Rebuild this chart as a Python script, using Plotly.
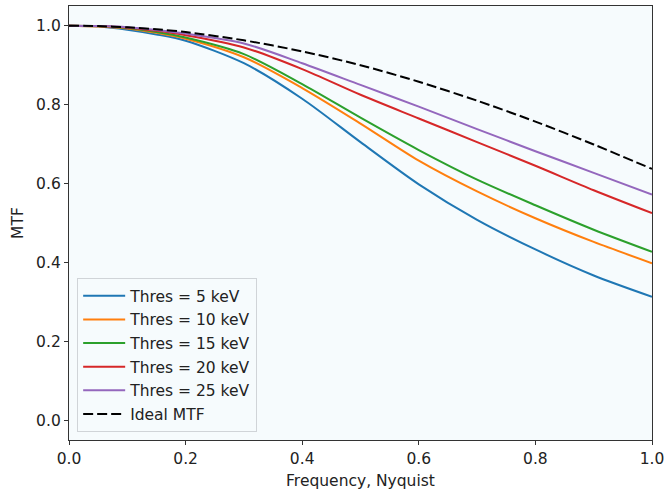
import plotly.graph_objects as go

freq = [0.0, 0.05, 0.1, 0.15, 0.2, 0.3, 0.4, 0.5, 0.6, 0.7, 0.8, 0.9, 1.0]
mtf_5 = [1.0, 0.998, 0.990, 0.978, 0.962, 0.905, 0.815, 0.705, 0.598, 0.508, 0.433, 0.367, 0.313]
mtf_10 = [1.0, 0.998, 0.993, 0.982, 0.967, 0.920, 0.842, 0.752, 0.658, 0.580, 0.512, 0.452, 0.398]
mtf_15 = [1.0, 0.999, 0.994, 0.984, 0.970, 0.928, 0.852, 0.767, 0.685, 0.610, 0.545, 0.483, 0.427]
mtf_20 = [1.0, 0.999, 0.995, 0.987, 0.976, 0.945, 0.890, 0.825, 0.765, 0.705, 0.645, 0.583, 0.525]
mtf_25 = [1.0, 0.999, 0.996, 0.989, 0.980, 0.955, 0.905, 0.850, 0.795, 0.738, 0.682, 0.627, 0.572]
mtf_ideal = [1.0, 0.999, 0.996, 0.991, 0.984, 0.963, 0.935, 0.900, 0.858, 0.810, 0.757, 0.699, 0.637]

labels = ["Thres = 5 keV", "Thres = 10 keV", "Thres = 15 keV",
          "Thres = 20 keV", "Thres = 25 keV", "Ideal MTF"]
series = [mtf_5, mtf_10, mtf_15, mtf_20, mtf_25, mtf_ideal]
colors = ["#1f77b4", "#ff7f0e", "#2ca02c", "#d62728", "#9467bd", "black"]
dashes = ["solid"] * 5 + ["10px,4px"]

fig = go.Figure()
for i, (lab, ys, c, d) in enumerate(zip(labels, series, colors, dashes)):
    fig.add_trace(go.Scatter(
        x=freq, y=ys, mode="lines", name=lab,
        line=dict(color=c, width=2, dash=d, shape="spline", smoothing=0.8),
        legendgroup=f"g{i}",
    ))

font = dict(family="DejaVu Sans", size=15.5, color="#222")
axis_common = dict(
    showgrid=False, zeroline=False, showline=True, linecolor="#333", linewidth=1.3,
    mirror=True, ticks="outside", ticklen=4, tickwidth=1.2, tickcolor="#333",
    tickformat=".1f", tickfont=font, ticklabeloverflow="allow", automargin=False,
)
fig.update_layout(
    width=664, height=492,
    margin=dict(l=69, r=12, t=6, b=52),
    paper_bgcolor="white",
    plot_bgcolor="#f6fbfd",
    font=font,
    showlegend=True,
    legend=dict(
        x=0.014, y=0.018, xanchor="left", yanchor="bottom",
        bgcolor="rgba(246,251,253,0.9)", bordercolor="#d0d4d8", borderwidth=1,
        font=dict(family="DejaVu Sans", size=15.5, color="#222"),
        tracegroupgap=0.5, traceorder="grouped", itemwidth=42,
    ),
    xaxis=dict(range=[0, 1.0], dtick=0.2,
               title=dict(text="Frequency, Nyquist", font=font, standoff=8),
               **axis_common),
    yaxis=dict(range=[-0.05, 1.05], tickvals=[0, 0.2, 0.4, 0.6, 0.8, 1.0],
               title=dict(text="MTF", font=font, standoff=8),
               **axis_common),
)

fig.write_html("out.html")
